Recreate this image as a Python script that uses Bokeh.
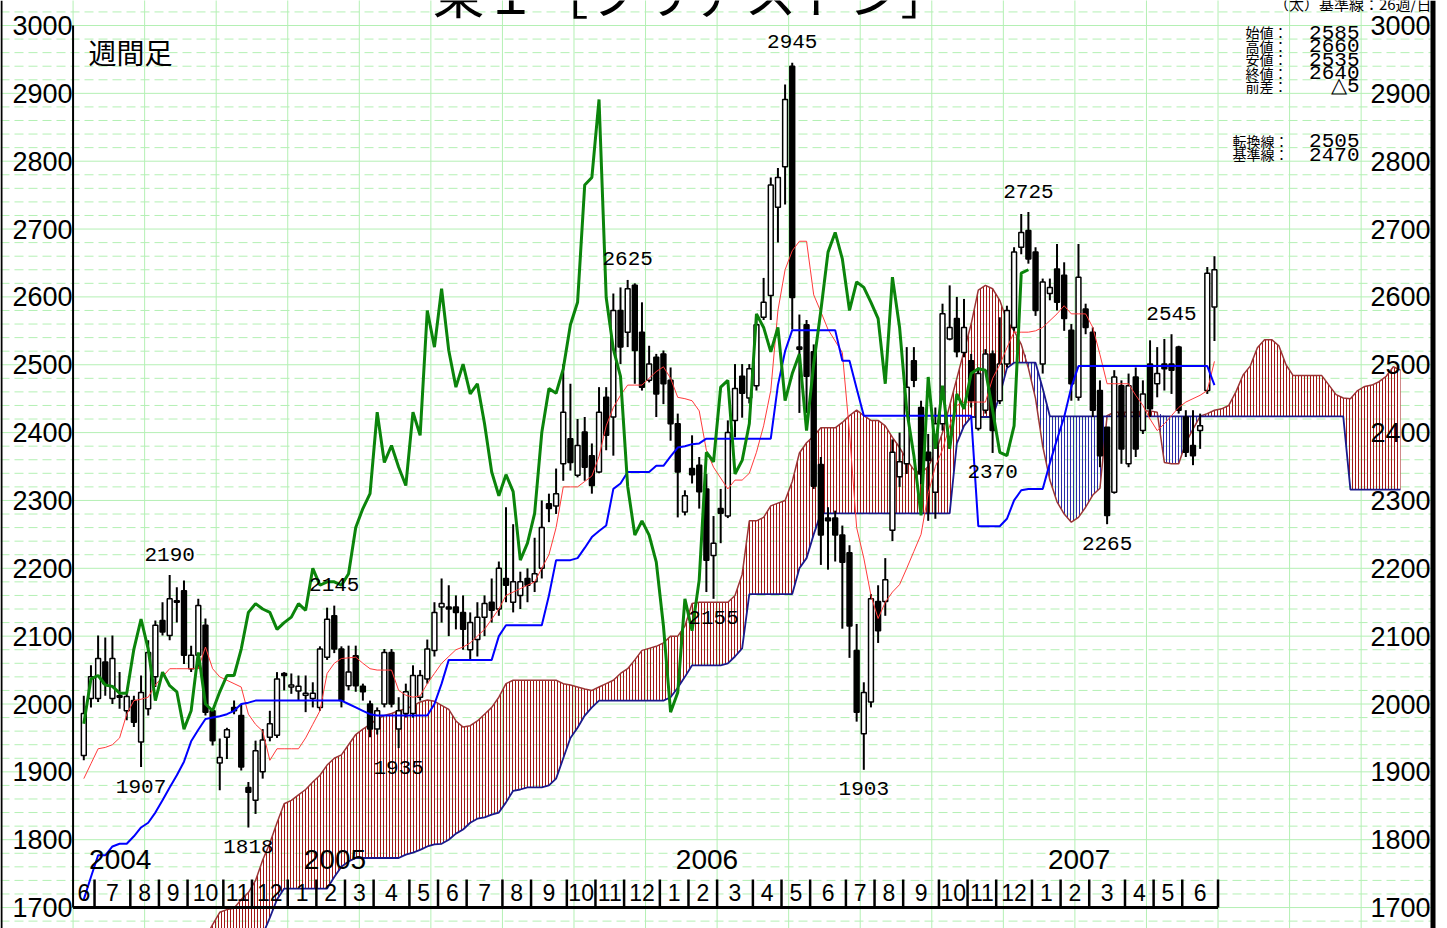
import numpy as np
import pandas as pd
from bokeh.plotting import figure
from bokeh.models import Range1d, Span, ColumnDataSource
from bokeh.core.properties import value
from bokeh.embed import file_html
from bokeh.resources import INLINE

# ---------------- data (weekly, Fridays from 2004-06-18) ----------------
first_week = "2004-06-18"
title = "東１［ブリヂストン］"
corner_label = "週間足"

opens = [1924,2008,2008,2062,2008,2010,1990,2005,1944,1993,
 2040,2123,2101,2152,2167,2052,2072,2116,1990,1913,
 1951,1995,1983,1877,1858,1900,1951,1954,2045,2025,
 2019,2013,2008,1995,2069,2130,2081,2027,2071,2026,
 2000,1963,2000,2076,1963,1986,1986,2010,2037,2079,
 2143,2143,2143,2135,2080,2095,2128,2150,2140,2185,
 2150,2160,2185,2180,2200,2295,2292,2354,2391,2337,
 2401,2366,2342,2452,2423,2580,2548,2617,2548,2477,
 2511,2516,2477,2413,2283,2347,2352,2317,2219,2288,
 2277,2418,2483,2451,2469,2570,2602,2732,2792,2940,
 2526,2559,2519,2353,2274,2274,2249,2223,2079,1956,
 2003,2151,2151,2256,2335,2354,2506,2437,2371,2312,
 2413,2538,2568,2518,2506,2406,2433,2516,2447,2501,
 2555,2673,2698,2666,2501,2605,2641,2632,2551,2452,
 2582,2548,2462,2408,2312,2469,2354,2482,2403,2501,
 2472,2501,2501,2526,2423,2381,2403,2462,2585]
highs = [2012,2057,2101,2098,2101,2047,2015,2012,2042,2094,
 2123,2150,2190,2172,2182,2086,2155,2126,1993,1949,
 1965,2005,2000,1885,1946,1963,1990,2047,2047,2045,
 2042,2042,2032,2085,2142,2145,2085,2086,2086,2030,
 2005,1995,2081,2081,2010,2030,2057,2050,2095,2150,
 2185,2175,2160,2160,2135,2150,2160,2185,2210,2290,
 2265,2195,2200,2245,2300,2310,2347,2501,2472,2420,
 2423,2384,2467,2467,2605,2614,2625,2620,2592,2528,
 2516,2521,2496,2428,2315,2396,2364,2339,2277,2317,
 2418,2501,2501,2501,2574,2628,2776,2790,2913,2945,
 2574,2566,2530,2364,2290,2285,2263,2234,2118,2032,
 2162,2175,2215,2390,2400,2526,2526,2447,2398,2437,
 2590,2617,2600,2597,2516,2496,2523,2521,2570,2587,
 2673,2722,2725,2673,2627,2627,2678,2651,2560,2678,
 2590,2555,2477,2408,2492,2477,2487,2496,2477,2536,
 2526,2538,2545,2528,2433,2433,2428,2644,2660]
lows = [1917,1995,2003,2012,2000,1993,1976,1966,1907,1983,
 2025,2101,2094,2120,2059,2047,2052,1983,1939,1873,
 1919,1985,1902,1818,1838,1890,1945,1950,2020,2015,
 2005,1988,1995,1990,2065,2075,1995,2020,2018,2005,
 1951,1955,1995,1995,1935,1980,1980,2005,2030,2070,
 2120,2100,2110,2080,2065,2070,2100,2120,2130,2150,
 2135,2140,2150,2165,2185,2268,2280,2329,2344,2334,
 2329,2310,2340,2374,2366,2501,2526,2472,2462,2474,
 2423,2442,2388,2275,2278,2325,2288,2165,2155,2237,
 2274,2393,2422,2443,2462,2566,2566,2680,2736,2552,
 2429,2429,2317,2205,2198,2210,2111,2068,1974,1903,
 1995,2090,2130,2240,2320,2339,2467,2324,2270,2273,
 2403,2536,2511,2511,2437,2403,2428,2370,2442,2496,
 2550,2663,2649,2572,2487,2595,2580,2550,2447,2447,
 2545,2423,2349,2265,2310,2354,2349,2364,2398,2423,
 2452,2462,2457,2428,2364,2352,2376,2457,2535]
closes = [1986,2040,2067,2030,2067,2012,2011,1973,2017,2076,
 2116,2106,2155,2150,2072,2072,2145,1988,1946,1921,
 1962,1990,1907,1870,1931,1947,1971,2037,2042,2028,
 2026,2016,2016,2081,2125,2081,2005,2047,2027,2018,
 1963,1990,2076,2000,1990,2018,2042,2042,2081,2135,
 2148,2140,2135,2110,2120,2128,2148,2138,2200,2175,
 2180,2180,2175,2192,2260,2288,2310,2430,2356,2381,
 2349,2322,2430,2396,2580,2526,2612,2521,2467,2501,
 2457,2472,2413,2342,2307,2338,2313,2212,2237,2281,
 2400,2465,2458,2494,2559,2592,2765,2776,2891,2599,
 2523,2483,2321,2249,2270,2249,2209,2115,1988,2017,
 2155,2108,2183,2371,2357,2467,2477,2339,2359,2413,
 2575,2555,2519,2555,2447,2487,2516,2403,2501,2580,
 2666,2695,2656,2580,2622,2614,2592,2568,2472,2629,
 2555,2433,2366,2278,2482,2376,2469,2376,2457,2435,
 2487,2494,2492,2433,2371,2366,2410,2635,2640]

# 転換線 (red)
tenkan = [1890,1912,1934,1936,1940,1950,1985,2005,2007,2010,
 2028,2040,2052,2052,2052,2052,2052,2084,2052,2040,
 2035,2030,2025,1985,1970,1960,1917,1934,1934,1934,
 1934,1950,1970,1990,2045,2060,2067,2068,2069,2060,
 2052,2050,2050,2050,2020,2013,2010,2012,2030,2045,
 2060,2070,2080,2084,2090,2100,2110,2125,2140,2160,
 2165,2170,2175,2180,2200,2220,2260,2320,2320,2320,
 2328,2336,2365,2410,2437,2455,2470,2470,2470,2480,
 2490,2497,2480,2452,2450,2447,2432,2374,2349,2333,
 2317,2330,2330,2340,2371,2410,2462,2580,2640,2668,
 2682,2682,2603,2578,2552,2535,2518,2400,2260,2215,
 2160,2126,2150,2165,2176,2200,2225,2250,2310,2350,
 2375,2410,2440,2445,2445,2445,2445,2480,2500,2525,
 2548,2548,2548,2550,2555,2565,2575,2587,2575,2575,
 2575,2555,2515,2472,2472,2472,2472,2455,2440,2420,
 2403,2413,2425,2437,2445,2450,2455,2462,2505]
# 基準線 (blue)
kijun = [1712,1745,1777,1777,1790,1794,1794,1805,1818,1825,
 1840,1858,1877,1895,1915,1945,1962,1978,1980,1982,
 1985,1990,2000,2002,2005,2005,2005,2005,2005,2005,
 2005,2005,2005,2005,2005,2005,2005,2000,1995,1990,
 1985,1983,1983,1983,1983,1983,1983,1983,1983,2000,
 2030,2065,2065,2065,2065,2065,2065,2065,2100,2116,
 2116,2116,2116,2116,2116,2160,2212,2212,2212,2215,
 2230,2246,2255,2263,2317,2325,2342,2342,2342,2342,
 2351,2351,2365,2378,2380,2383,2384,2391,2391,2391,
 2391,2391,2391,2391,2391,2391,2391,2470,2520,2551,
 2551,2551,2551,2551,2551,2551,2506,2506,2465,2425,
 2425,2425,2425,2425,2425,2425,2425,2425,2425,2425,
 2425,2425,2425,2425,2425,2262,2262,2262,2262,2273,
 2300,2315,2317,2317,2317,2355,2390,2423,2467,2498,
 2498,2498,2498,2498,2498,2498,2498,2498,2498,2498,
 2498,2498,2498,2498,2498,2498,2498,2498,2470]
# 先行スパン1 / 先行スパン2 (weeks 0..184, already shifted 26 weeks ahead)
senkou_a = [None]*17 + [
 1655,1675,1693,1697,1699,1712,1722,1740,1770,1795,1825,1853,1858,1866,1874,1885,
 1895,1910,1920,1925,1940,1955,1963,1970,1978,1983,
 1986,1990,1993,1997,2003,2006,2004,1998,1992,1975,
 1966,1968,1975,1985,1995,2010,2030,2035,2035,2035,
 2035,2035,2035,2035,2030,2028,2025,2022,2020,2025,
 2030,2035,2045,2052,2065,2079,2082,2085,2090,2100,
 2100,2115,2148,2150,2150,2150,2150,2150,2160,2191,
 2270,2270,2275,2292,2296,2300,2328,2370,2385,2395,
 2407,2407,2407,2415,2425,2433,2425,2418,2418,2410,
 2393,2378,2360,2345,2340,2350,2370,2400,2440,2480,
 2520,2560,2610,2617,2612,2595,2565,2550,2530,2495,
 2450,2380,2330,2298,2280,2268,2275,2290,2308,2318,
 2425,2430,2430,2430,2430,2432,2432,2430,2356,2354,
 2354,2385,2405,2424,2428,2433,2435,2440,2460,2485,
 2498,2525,2537,2537,2528,2500,2484,2484,2484,2484,
 2484,2470,2456,2451,2450,2462,2468,2470,2475,2483,2497,2492]
senkou_b = [None]*17 + [
 1560,1570,1580,1590,1600,1610,1620,1635,1660,1685,1712,1728,1728,1728,1728,1728,
 1728,1728,1745,1760,1768,1773,1773,1773,1773,1773,
 1773,1773,1778,1781,1785,1790,1793,1794,1800,1809,
 1815,1825,1831,1833,1837,1840,1855,1872,1874,1877,
 1877,1877,1880,1890,1920,1950,1965,1983,1995,2005,
 2005,2005,2005,2005,2005,2005,2005,2005,2005,2010,
 2024,2040,2057,2057,2057,2057,2057,2060,2070,2082,
 2162,2162,2162,2162,2162,2162,2162,2200,2215,2250,
 2281,2281,2281,2281,2281,2281,2281,2281,2281,2281,
 2281,2281,2281,2281,2281,2281,2281,2281,2281,2384,
 2410,2423,2423,2423,2423,2455,2495,2503,2503,2503,
 2503,2465,2424,2424,2424,2424,2424,2424,2424,2424,
 2424,2424,2424,2424,2424,2424,2424,2424,2424,2424,
 2424,2424,2424,2424,2424,2424,2424,2424,2424,2424,
 2424,2424,2424,2424,2424,2424,2424,2424,2424,2424,
 2424,2424,2424,2424,2316,2316,2316,2316,2316,2316,2316,2316]

chikou_shift = 26
price_ticks = list(range(1700, 3001, 100))
peak_weeks = [12, 35, 76, 99, 132, 152]
trough_weeks = [8, 23, 44, 88, 109, 127, 143]

n = len(closes)
assert len(opens) == n == len(highs) == len(lows) == len(tenkan) == len(kijun)
assert len(senkou_a) == len(senkou_b) == n + 26

# ---------------- geometry (reference pixel scale) ----------------
X0 = 83.3      # picture x of first candle
PXW = 7.156    # px per week
Y3000 = 25.0   # picture y of 3000
PXU = 0.6785   # px per yen

def px_x(px):
    return (px - X0) / PXW

def px_y(py):
    return 3000 - (py - Y3000) / PXU

W, H = 1447, 928
p = figure(width=W, height=H, output_backend="svg", toolbar_location=None,
           x_range=Range1d(px_x(0), px_x(W)), y_range=Range1d(px_y(H), px_y(0)),
           x_axis_type=None, y_axis_type=None, min_border=0,
           outline_line_color=None, background_fill_color="white",
           border_fill_color="white")

GRID = "#b4f0b4"
# horizontal grid
xl, xr = px_x(0), px_x(1432)
solid_v = [v for v in range(1600, 3100, 20) if v % 100 == 0]
dash_v = [v for v in range(1600, 3100, 20) if v % 100 != 0]
p.segment(x0=[xl]*len(solid_v), x1=[xr]*len(solid_v), y0=solid_v, y1=solid_v,
          line_color=GRID, line_width=1)
p.segment(x0=[xl]*len(dash_v), x1=[xr]*len(dash_v), y0=dash_v, y1=dash_v,
          line_color=GRID, line_width=1, line_dash="9 5")
# vertical grid every 10 weeks
vx = [-1.5 + 10 * k for k in range(19)]
p.segment(x0=vx, x1=vx, y0=[px_y(940)]*len(vx), y1=[px_y(-10)]*len(vx),
          line_color=GRID, line_width=1)

# ---------------- cloud ----------------
cx = np.arange(n + 26, dtype=float)
A = np.array([np.nan if v is None else v for v in senkou_a], dtype=float)
B = np.array([np.nan if v is None else v for v in senkou_b], dtype=float)
ok = ~np.isnan(A) & ~np.isnan(B)
top = np.maximum(A, B)
p.varea(x=cx[ok], y1=B[ok], y2=top[ok], fill_color=None,
        hatch_pattern="|", hatch_color="#a31515", hatch_scale=3, hatch_weight=1)
p.varea(x=cx[ok], y1=A[ok], y2=top[ok], fill_color=None,
        hatch_pattern="|", hatch_color="#2a2aa8", hatch_scale=3, hatch_weight=1)
p.line(cx, A, line_color="#9b3535", line_width=1.5)
p.line(cx, B, line_color="#1a1a8c", line_width=1.8)

# ---------------- candles ----------------
idx = np.arange(n)
o = np.array(opens); c = np.array(closes)
src = ColumnDataSource(dict(x=idx, hi=highs, lo=lows,
                            top=np.maximum(o, c), bot=np.minimum(o, c),
                            fill=np.where(c >= o, "white", "black")))
p.segment(x0="x", x1="x", y0="lo", y1="hi", source=src, line_color="black", line_width=2)
p.vbar(x="x", width=0.68, top="top", bottom="bot", source=src,
       fill_color="fill", line_color="black", line_width=1.5)

# ---------------- ichimoku lines ----------------
p.line(idx, tenkan, line_color="#ff3b3b", line_width=1)
p.line(idx, kijun, line_color="#0000ff", line_width=2)
p.line(idx[:-chikou_shift], closes[chikou_shift:], line_color="#0b840b", line_width=3)

# ---------------- axes drawn by hand ----------------
p.segment(x0=[-1.5], x1=[-1.5], y0=[1700], y1=[3000], line_color="black", line_width=2)
weeks = pd.date_range(first_week, periods=n, freq="7D")
bounds = [-1.5] + [k - 0.5 for k in range(1, n) if weeks[k].month != weeks[k - 1].month] + [n - 0.5]
p.segment(x0=bounds[1:], x1=bounds[1:], y0=[1700]*(len(bounds) - 1),
          y1=[px_y(879)]*(len(bounds) - 1), line_color="black", line_width=2.5)
p.segment(x0=[-1.5], x1=[n - 0.5], y0=[1700], y1=[1700], line_color="black", line_width=3)
p.add_layout(Span(location=px_x(1432.5), dimension="height", line_color="black", line_width=5))
p.add_layout(Span(location=px_x(1.0), dimension="height", line_color="black", line_width=2))

SANS = "Liberation Sans"
MONO = "Liberation Mono"
CJK = "Noto Sans CJK JP"

def put(xs, ys, texts, font, size, align="left", baseline="middle", color="black"):
    p.text(x=xs, y=ys, text=texts, text_font=value(font), text_font_size=value(size),
           text_align=align, text_baseline=baseline, text_color=color)

# month labels + year labels
mx, mt, yx, yt = [], [], [], []
for j in range(len(bounds) - 1):
    wk = weeks[int(bounds[j] + 0.5) if j > 0 else 0]
    mx.append((bounds[j] + bounds[j + 1]) / 2)
    mt.append(str(wk.month))
    if j == 0 or wk.month == 1:
        yx.append(bounds[j] + 16 / PXW)
        yt.append(str(wk.year))
put(mx, [px_y(892)]*len(mx), mt, SANS, "23px", align="center")
put(yx, [px_y(859)]*len(yx), yt, SANS, "28px")

# price labels, both sides
put([px_x(72)]*len(price_ticks), price_ticks, [str(v) for v in price_ticks], SANS, "27px", align="right")
put([px_x(1430)]*len(price_ticks), price_ticks, [str(v) for v in price_ticks], SANS, "27px", align="right")

# high / low annotations
put(peak_weeks, [highs[i] + 21 / PXU for i in peak_weeks], [str(highs[i]) for i in peak_weeks],
    MONO, "21px", align="center")
put(trough_weeks, [lows[i] - 19 / PXU for i in trough_weeks], [str(lows[i]) for i in trough_weeks],
    MONO, "21px", align="center")

# titles
put([px_x(432)], [px_y(-9)], [title], CJK, "52px")
put([px_x(88)], [px_y(51)], [corner_label], CJK, "28px")
put([px_x(1431)], [px_y(3)], ["（太）基準線：26週/日"], CJK, "15px", align="right")

# info box
diff = closes[-1] - closes[-2]
diff_txt = ("△" if diff >= 0 else "▼") + str(abs(diff))
rows = [("始値：", str(opens[-1])), ("高値：", str(highs[-1])), ("安値：", str(lows[-1])),
        ("終値：", str(closes[-1])), ("前差：", diff_txt)]
ry = [31.5, 45, 58.5, 72, 85.5]
put([px_x(1245)]*5, [px_y(v) for v in ry], [r[0] for r in rows], CJK, "14px")
put([px_x(1359)]*5, [px_y(v) for v in ry], [r[1] for r in rows], MONO, "21px", align="right")
put([px_x(1232)]*2, [px_y(140), px_y(153.5)], ["転換線：", "基準線："], CJK, "14px")
put([px_x(1359)]*2, [px_y(140), px_y(153.5)], [str(tenkan[-1]), str(kijun[-1])], MONO, "21px", align="right")

open("out.html", "w").write(file_html(p, INLINE))
